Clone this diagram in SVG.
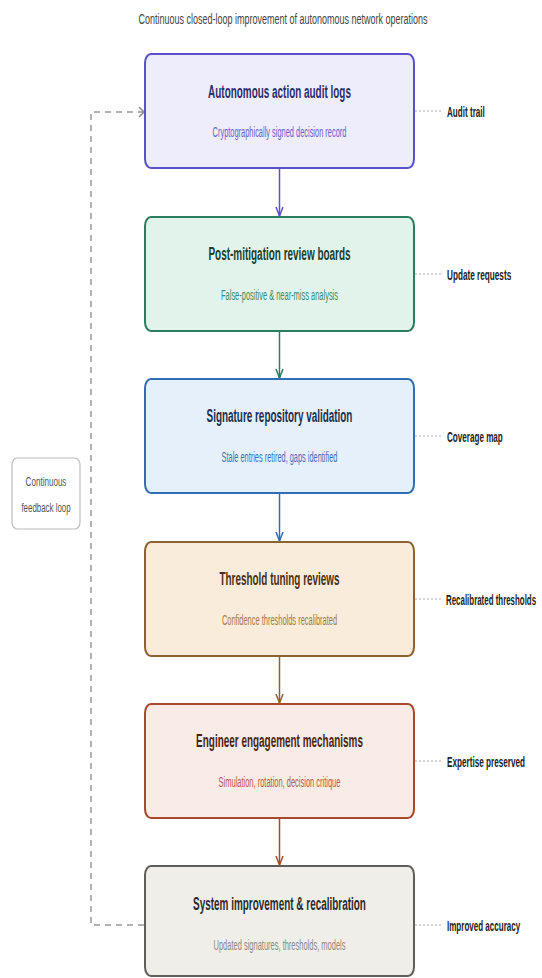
<svg xmlns="http://www.w3.org/2000/svg" width="542" height="978" viewBox="0 0 542 978">
<style>
text{font-family:"Liberation Sans",Arial,sans-serif}
.ttl{font-size:19px;font-weight:bold;text-anchor:middle}
.sub{font-size:15px;text-anchor:middle}
.lbl{font-size:15px;font-weight:bold;fill:#222}
.box{stroke-width:2}
.dot{stroke:#aaa;stroke-width:1;stroke-dasharray:2 2;fill:none}
.con{stroke-width:1.5;fill:none}
</style>
<defs>
<marker id="aP" viewBox="-10 -5 11 10" refX="0" refY="0" markerWidth="11" markerHeight="10" markerUnits="userSpaceOnUse" orient="auto"><path d="M-9,-3.5 L0,0 L-9,3.5" fill="none" stroke="#5b50cc" stroke-width="1.5"/></marker>
<marker id="aG" viewBox="-10 -5 11 10" refX="0" refY="0" markerWidth="11" markerHeight="10" markerUnits="userSpaceOnUse" orient="auto"><path d="M-9,-3.5 L0,0 L-9,3.5" fill="none" stroke="#2a7d5e" stroke-width="1.5"/></marker>
<marker id="aB" viewBox="-10 -5 11 10" refX="0" refY="0" markerWidth="11" markerHeight="10" markerUnits="userSpaceOnUse" orient="auto"><path d="M-9,-3.5 L0,0 L-9,3.5" fill="none" stroke="#2f6db5" stroke-width="1.5"/></marker>
<marker id="aO" viewBox="-10 -5 11 10" refX="0" refY="0" markerWidth="11" markerHeight="10" markerUnits="userSpaceOnUse" orient="auto"><path d="M-9,-3.5 L0,0 L-9,3.5" fill="none" stroke="#8c6230" stroke-width="1.5"/></marker>
<marker id="aR" viewBox="-10 -5 11 10" refX="0" refY="0" markerWidth="11" markerHeight="10" markerUnits="userSpaceOnUse" orient="auto"><path d="M-9,-3.5 L0,0 L-9,3.5" fill="none" stroke="#a8482c" stroke-width="1.5"/></marker>
<marker id="aF" viewBox="-7 -6 8 12" refX="0" refY="0" markerWidth="8" markerHeight="12" markerUnits="userSpaceOnUse" orient="auto"><path d="M-5,-5 L0,0 L-5,5" fill="none" stroke="#888" stroke-width="1.5"/></marker>
</defs>
<rect width="542" height="978" fill="#ffffff"/>
<text transform="translate(283,24) scale(0.6,1)" font-size="14.5" fill="#444" text-anchor="middle" textLength="482" lengthAdjust="spacingAndGlyphs">Continuous closed-loop improvement of autonomous network operations</text>

<g id="connectors">
<line class="con" x1="279.5" y1="169" x2="279.5" y2="216" stroke="#5b50cc" marker-end="url(#aP)"/>
<line class="con" x1="279.5" y1="332" x2="279.5" y2="378" stroke="#2a7d5e" marker-end="url(#aG)"/>
<line class="con" x1="279.5" y1="494" x2="279.5" y2="541" stroke="#2f6db5" marker-end="url(#aB)"/>
<line class="con" x1="279.5" y1="657" x2="279.5" y2="703" stroke="#8c6230" marker-end="url(#aO)"/>
<line class="con" x1="279.5" y1="819" x2="279.5" y2="865" stroke="#a8482c" marker-end="url(#aR)"/>
<path d="M144,925 H91 V112 H144" fill="none" stroke="#999" stroke-width="1.5" stroke-dasharray="6 5" marker-end="url(#aF)"/>
<line class="dot" x1="415" y1="111" x2="442" y2="111"/>
<line class="dot" x1="415" y1="274" x2="442" y2="274"/>
<line class="dot" x1="415" y1="436" x2="442" y2="436"/>
<line class="dot" x1="415" y1="599" x2="442" y2="599"/>
<line class="dot" x1="415" y1="761" x2="442" y2="761"/>
<line class="dot" x1="415" y1="925" x2="442" y2="925"/>
</g>

<g id="n1">
<rect class="box" x="145" y="54" width="269" height="114" rx="6" ry="9" fill="#eeedfb" stroke="#5b50cc"/>
<text class="ttl" transform="translate(279.5,98) scale(0.6,1)" fill="#2e2a6b" textLength="238" lengthAdjust="spacingAndGlyphs">Autonomous action audit logs</text>
<text class="sub" transform="translate(279.5,137) scale(0.6,1)" fill="#6a60d0" textLength="223" lengthAdjust="spacingAndGlyphs">Cryptographically signed decision record</text>
</g>
<g id="n2">
<rect class="box" x="145" y="217" width="269" height="114" rx="6" ry="9" fill="#e2f3ec" stroke="#2a7d5e"/>
<text class="ttl" transform="translate(279.5,260) scale(0.6,1)" fill="#17402f" textLength="237" lengthAdjust="spacingAndGlyphs">Post-mitigation review boards</text>
<text class="sub" transform="translate(279.5,300) scale(0.6,1)" fill="#3e8a6b" textLength="195" lengthAdjust="spacingAndGlyphs">False-positive &amp; near-miss analysis</text>
</g>
<g id="n3">
<rect class="box" x="145" y="379" width="269" height="114" rx="6" ry="9" fill="#e6f0fb" stroke="#2f6db5"/>
<text class="ttl" transform="translate(279.5,422) scale(0.6,1)" fill="#1b2f4c" textLength="243" lengthAdjust="spacingAndGlyphs">Signature repository validation</text>
<text class="sub" transform="translate(279.5,462) scale(0.6,1)" fill="#3b72b8" textLength="193" lengthAdjust="spacingAndGlyphs">Stale entries retired, gaps identified</text>
</g>
<g id="n4">
<rect class="box" x="145" y="542" width="269" height="114" rx="6" ry="9" fill="#f9ecda" stroke="#8c6230"/>
<text class="ttl" transform="translate(279.5,585) scale(0.6,1)" fill="#4a3012" textLength="200" lengthAdjust="spacingAndGlyphs">Threshold tuning reviews</text>
<text class="sub" transform="translate(279.5,625) scale(0.6,1)" fill="#a07a4c" textLength="192" lengthAdjust="spacingAndGlyphs">Confidence thresholds recalibrated</text>
</g>
<g id="n5">
<rect class="box" x="145" y="704" width="269" height="114" rx="6" ry="9" fill="#f9ebe5" stroke="#a8482c"/>
<text class="ttl" transform="translate(279.5,747) scale(0.6,1)" fill="#4c1f14" textLength="278" lengthAdjust="spacingAndGlyphs">Engineer engagement mechanisms</text>
<text class="sub" transform="translate(279.5,787) scale(0.6,1)" fill="#b25c47" textLength="203" lengthAdjust="spacingAndGlyphs">Simulation, rotation, decision critique</text>
</g>
<g id="n6">
<rect class="box" x="145" y="866" width="269" height="110" rx="6" ry="9" fill="#f0eee8" stroke="#5f5f5a"/>
<text class="ttl" transform="translate(279.5,910) scale(0.6,1)" fill="#2b2b2b" textLength="288" lengthAdjust="spacingAndGlyphs">System improvement &amp; recalibration</text>
<text class="sub" transform="translate(279.5,950) scale(0.6,1)" fill="#8a8a86" textLength="220" lengthAdjust="spacingAndGlyphs">Updated signatures, thresholds, models</text>
</g>

<g id="labels">
<text class="lbl" transform="translate(447,117) scale(0.6,1)" textLength="63" lengthAdjust="spacingAndGlyphs">Audit trail</text>
<text class="lbl" transform="translate(447,280) scale(0.6,1)" textLength="107" lengthAdjust="spacingAndGlyphs">Update requests</text>
<text class="lbl" transform="translate(447,442) scale(0.6,1)" textLength="93" lengthAdjust="spacingAndGlyphs">Coverage map</text>
<text class="lbl" transform="translate(446,605) scale(0.53,1)" textLength="170" lengthAdjust="spacingAndGlyphs">Recalibrated thresholds</text>
<text class="lbl" transform="translate(447,767) scale(0.6,1)" textLength="130" lengthAdjust="spacingAndGlyphs">Expertise preserved</text>
<text class="lbl" transform="translate(447,931) scale(0.6,1)" textLength="122" lengthAdjust="spacingAndGlyphs">Improved accuracy</text>
</g>

<g id="feedback">
<rect x="12" y="458" width="68" height="71" rx="5" ry="7" fill="#ffffff" stroke="#bbbbbb" stroke-width="1.2"/>
<text transform="translate(46,486) scale(0.6,1)" font-size="13.5" fill="#555" text-anchor="middle" textLength="68" lengthAdjust="spacingAndGlyphs">Continuous</text>
<text transform="translate(46,512) scale(0.6,1)" font-size="13.5" fill="#555" text-anchor="middle" textLength="82" lengthAdjust="spacingAndGlyphs">feedback loop</text>
</g>
</svg>
